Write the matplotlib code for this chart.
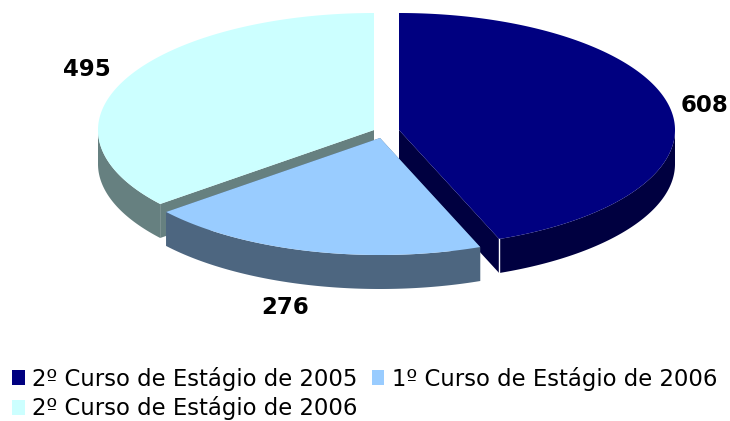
#!/usr/bin/env python3
"""Exploded pseudo-3D pie of course counts, drawn as polygons in pixel space."""
import numpy as np
import matplotlib
matplotlib.use("Agg")
import matplotlib.pyplot as plt
from matplotlib.patches import Patch, Polygon

labels = ["2º Curso de Estágio de 2005", "1º Curso de Estágio de 2006", "2º Curso de Estágio de 2006"]
values = [608, 276, 495]
top_colors = ["#000080", "#99CCFF", "#CCFFFF"]
side_colors = ["#000040", "#4D6680", "#668080"]

# slice centres in pixels (exploded), ellipse radii and pie thickness
centres = [(399, 130), (380, 138), (374, 130)]
RX, RY, DEPTH = 276, 117, 34


def rim(c, t0, t1, n=200):
    t = np.linspace(t0, t1, n)
    return np.column_stack([c[0] + RX * np.sin(t), c[1] - RY * np.cos(t)])


fig = plt.figure(figsize=(7.3, 4.21), dpi=100)
ax = fig.add_axes([0, 0, 1, 1])
ax.set_xlim(0, 730)
ax.set_ylim(421, 0)
ax.axis("off")

edges = np.cumsum([0] + values) / sum(values) * 2 * np.pi
drop = np.array([0, DEPTH])

# draw back to front: cyan, navy, light blue
for i in [2, 0, 1]:
    c, t0, t1 = centres[i], edges[i], edges[i + 1]
    apex = np.array(c, dtype=float)
    # inner cut faces
    for t in (t0, t1):
        p = rim(c, t, t, 1)[0]
        ax.add_patch(Polygon([apex, p, p + drop, apex + drop], fc=side_colors[i], ec="none", zorder=1))
    # outer wall, only the part of the rim facing the viewer
    a, b = max(t0, np.pi / 2), min(t1, 3 * np.pi / 2)
    if b > a:
        arc = rim(c, a, b)
        ax.add_patch(Polygon(np.vstack([arc, (arc + drop)[::-1]]), fc=side_colors[i], ec="none", zorder=1))
    arc = rim(c, t0, t1)
    ax.add_patch(Polygon(np.vstack([apex, arc]), fc=top_colors[i], ec="none", zorder=1))
    if i == 0:
        p = rim(c, t1, t1, 1)[0]
        ax.plot([p[0], p[0]], [p[1], p[1] + DEPTH], color="white", lw=1, zorder=1)

label_pos = [(705, 105), (285, 307), (87, 69)]
for v, (x, y) in zip(values, label_pos):
    ax.text(x, y, str(v), ha="center", va="center", fontsize=16.5, fontweight="bold", color="black")

# legend fills by column, so order is row 1, row 2, then second column
handles = [Patch(fc=c, ec="none") for c in top_colors]
order = [0, 2, 1]
ax.legend([handles[i] for i in order], [labels[i] for i in order], ncol=2,
          loc="lower left", bbox_to_anchor=(12 / 730, 0.5 / 421), frameon=False,
          fontsize=16.4, handlelength=0.55, handleheight=0.62, handletextpad=0.32,
          columnspacing=0.64, labelspacing=0.25, borderaxespad=0, borderpad=0)

fig.savefig("out.png", dpi=100)
